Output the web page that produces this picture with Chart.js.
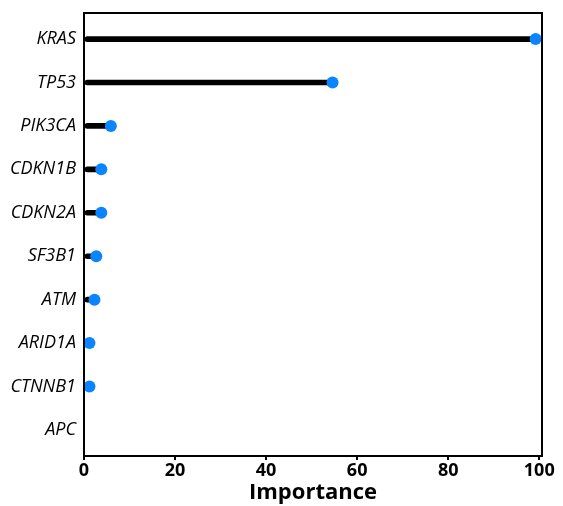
<!DOCTYPE html>
<html lang="en">
<head>
    <meta charset="UTF-8">
    <title>Importance</title>
    <script src="https://cdn.jsdelivr.net/npm/chart.js"></script>
    <style>
        html, body { margin: 0; padding: 0; background: #fff; }
        #wrap { width: 563px; height: 506px; }
    </style>
</head>
<body>
<div id="wrap"><canvas id="grafico" width="563" height="506"></canvas></div>
<script>
    // genes, top to bottom
    const geni = ['KRAS', 'TP53', 'PIK3CA', 'CDKN1B', 'CDKN2A', 'SF3B1', 'ATM', 'ARID1A', 'CTNNB1', 'APC'];
    // importance values
    const importanza = [99.2, 54.6, 5.9, 3.8, 3.8, 2.7, 2.3, 1.2, 1.2, null];
    const tickX = [0, 20, 40, 60, 80, 100];

    const punti = geni.map((g, i) => ({ x: importanza[i], y: i }));

    // box around the plot area
    const cornice = {
        id: 'cornice',
        afterDraw(chart) {
            const a = chart.chartArea, c = chart.ctx;
            c.save();
            c.strokeStyle = '#000';
            c.lineWidth = 2;
            c.strokeRect(a.left, a.top, a.right - a.left, a.bottom - a.top);
            c.restore();
        }
    };

    new Chart(document.getElementById('grafico'), {
        type: 'bar',
        data: {
            datasets: [{
                type: 'bar',
                data: punti,
                backgroundColor: '#000',
                barThickness: 5,
                borderRadius: 3,
                borderSkipped: false,
                order: 2
            }, {
                type: 'scatter',
                data: punti,
                backgroundColor: '#0a84ff',
                borderWidth: 0,
                pointRadius: 6,
                pointHoverRadius: 6,
                clip: false,
                order: 1
            }]
        },
        options: {
            indexAxis: 'y',
            responsive: false,
            animation: false,
            layout: { padding: { top: 13, right: 21, left: 0, bottom: 0 } },
            plugins: { legend: { display: false }, tooltip: { enabled: false } },
            scales: {
                x: {
                    type: 'linear',
                    min: 0,
                    max: 100.6,
                    afterBuildTicks(ax) { ax.ticks = tickX.map(v => ({ value: v })); },
                    afterFit(ax) { ax.height = 50; },
                    border: { display: true, color: '#000', width: 2 },
                    grid: { drawOnChartArea: false, drawTicks: true, tickLength: 4, color: '#000', lineWidth: 2 },
                    ticks: {
                        color: '#000',
                        padding: 0,
                        maxRotation: 0,
                        font: { family: 'Open Sans', size: 18, weight: 'bold' }
                    },
                    title: {
                        display: true,
                        text: 'Importance',
                        color: '#000',
                        padding: { top: 0, bottom: 0 },
                        font: { family: 'Open Sans', size: 22, weight: 'bold' }
                    }
                },
                y: {
                    type: 'linear',
                    offset: false,
                    reverse: true,
                    min: -0.6,
                    max: 9.6,
                    afterBuildTicks(ax) { ax.ticks = geni.map((g, i) => ({ value: i })); },
                    afterFit(ax) { ax.width = 84; ax.paddingTop = 0; ax.paddingBottom = 0; },
                    border: { display: true, color: '#000', width: 2 },
                    grid: { drawOnChartArea: false, drawTicks: false },
                    ticks: {
                        color: '#000',
                        padding: 8,
                        callback: (v) => geni[v],
                        font: { family: 'Open Sans', size: 18, style: 'italic' }
                    }
                }
            }
        },
        plugins: [cornice]
    });
</script>
</body>
</html>
